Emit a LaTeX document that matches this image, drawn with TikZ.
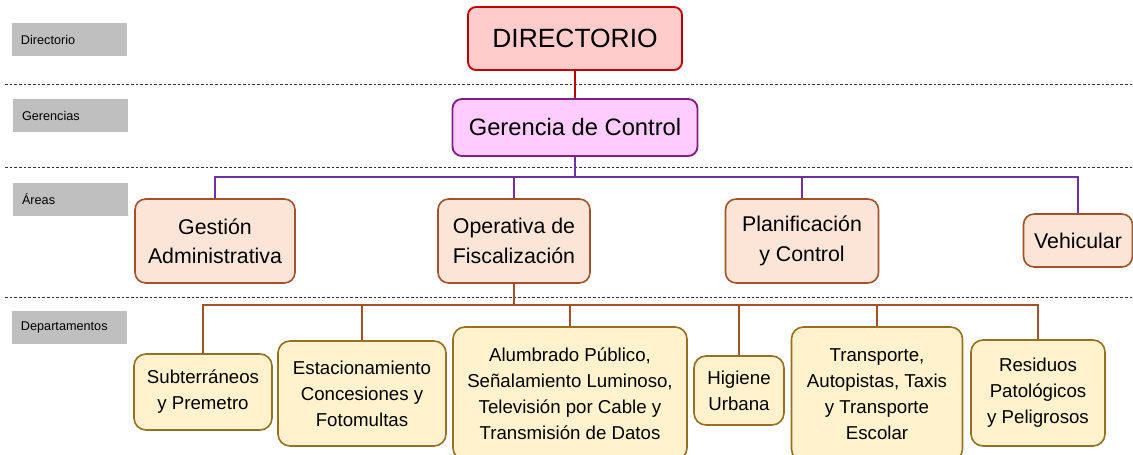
\documentclass[tikz,border=0pt]{standalone}
\usepackage{fontspec}
\setmainfont{Liberation Sans}
\definecolor{rojo}{HTML}{C00000}
\definecolor{rosa}{HTML}{FFCCCC}
\definecolor{lila}{HTML}{FFCCFF}
\definecolor{morado}{HTML}{7F1F7F}
\definecolor{violeta}{HTML}{7030A0}
\definecolor{durazno}{HTML}{FBE5D6}
\definecolor{cafe}{HTML}{A0522D}
\definecolor{crema}{HTML}{FFF2CC}
\definecolor{ocre}{HTML}{957020}
\definecolor{gris}{HTML}{BFBFBF}

\begin{document}
\begin{tikzpicture}[x=0.75pt,y=-0.75pt,
  nivel/.style={fill=gris, minimum width=86.25pt, minimum height=24.75pt, inner xsep=6.75pt, text width=72.75pt, align=left, font=\fontsize{9.5}{11}\selectfont},
  cajaDir/.style={draw=rojo, fill=rosa, line width=1.4pt, rounded corners=6pt, align=center, font=\fontsize{19.8}{23}\selectfont},
  cajaGer/.style={draw=morado, fill=lila, line width=1.4pt, rounded corners=7pt, align=center, font=\fontsize{17.8}{21}\selectfont},
  cajaArea/.style={draw=cafe, fill=durazno, line width=1.2pt, rounded corners=8pt, align=center, minimum height=63pt, font=\fontsize{16}{22}\selectfont},
  cajaDep/.style={draw=ocre, fill=crema, line width=1.2pt, rounded corners=9pt, align=center, font=\fontsize{14}{19.5}\selectfont},
  linea/.style={black!80, line width=0.6pt, dash pattern=on 2pt off 1.5pt},
  conRojo/.style={rojo, line width=1.5pt},
  conMorado/.style={violeta, line width=1.5pt},
  conCafe/.style={cafe, line width=1.3pt}]
\clip (0,0) rectangle (1133,454);

\node[nivel] (lbDir) at (69.5,39.5) {Directorio};
\node[nivel] (lbGer) at (70.5,115.5) {Gerencias};
\node[nivel] (lbArea) at (70.5,199.5) {Áreas};
\node[nivel] (lbDep) at (69.5,327.5) {Departamentos};

\draw[linea] (5,84) -- (1133,84);
\draw[linea] (5,167) -- (1133,167);
\draw[linea] (5,297) -- (1133,297);

\node[cajaDir, minimum width=160.5pt, minimum height=47.25pt] (dir) at (575,38.5) {DIRECTORIO};
\node[cajaGer, minimum width=183.75pt, minimum height=42.75pt] (ger) at (575,127.5) {Gerencia de Control};

\node[cajaArea, minimum width=120pt] (gest) at (215,241) {Gestión\\Administrativa};
\node[cajaArea, minimum width=114pt] (oper) at (514,241) {Operativa de\\Fiscalización};
\node[cajaArea, minimum width=114.75pt] (plan) at (802,241) {Planificación\\y Control};
\node[cajaArea, minimum width=81.75pt, minimum height=39.75pt] (veh) at (1078,240.5) {Vehicular};

\node[cajaDep, minimum width=103.5pt, minimum height=57pt] (subt) at (203,392) {Subterráneos\\y Premetro};
\node[cajaDep, minimum width=126pt, minimum height=78.75pt] (esta) at (362,393.5) {Estacionamiento\\Concesiones y\\Fotomultas};
\node[cajaDep, minimum width=175.5pt, minimum height=99.75pt] (alum) at (570,393.5) {Alumbrado Público,\\Señalamiento Luminoso,\\Televisión por Cable y\\Transmisión de Datos};
\node[cajaDep, minimum width=67.5pt, minimum height=51.75pt] (higi) at (739,390.5) {Higiene\\Urbana};
\node[cajaDep, minimum width=128.25pt, minimum height=100.5pt] (tran) at (877,394) {Transporte,\\Autopistas, Taxis\\y Transporte\\Escolar};
\node[cajaDep, minimum width=100.5pt, minimum height=79.5pt] (resi) at (1038,393) {Residuos\\Patológicos\\y Peligrosos};

\coordinate (busA) at (575,177);
\coordinate (busB) at (514,305);

\draw[conRojo] (dir.south) -- (dir.south |- ger.north);
\draw[conMorado] (ger.south) -- (busA);
\foreach \a in {gest,oper,plan,veh}
  \draw[conMorado] (\a.north) |- (busA);
\draw[conCafe] (oper.south) -- (busB);
\foreach \d in {subt,esta,alum,higi,tran,resi}
  \draw[conCafe] (\d.north) |- (busB);
\end{tikzpicture}
\end{document}
